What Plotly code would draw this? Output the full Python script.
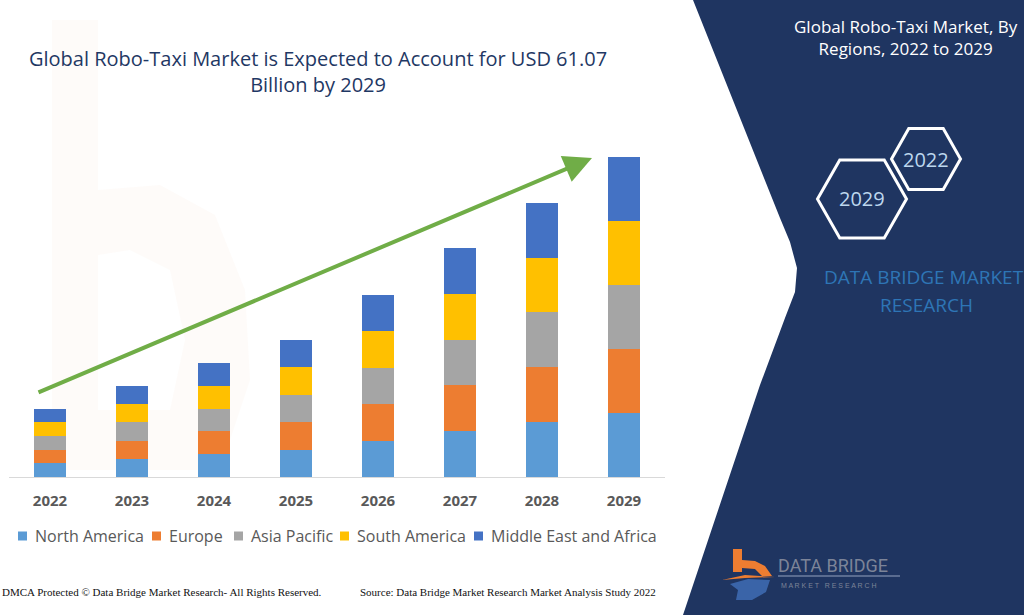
import plotly.graph_objects as go

# ---------------- data ----------------
years = ["2022", "2023", "2024", "2025", "2026", "2027", "2028", "2029"]
north_america = [2.60, 3.47, 4.35, 5.23, 6.95, 8.74, 10.46, 12.21]
europe        = [2.60, 3.47, 4.35, 5.23, 6.95, 8.74, 10.46, 12.22]
asia_pacific  = [2.60, 3.47, 4.35, 5.23, 6.95, 8.74, 10.46, 12.21]
south_america = [2.60, 3.47, 4.35, 5.23, 6.95, 8.74, 10.46, 12.21]
mea           = [2.60, 3.47, 4.35, 5.23, 6.95, 8.74, 10.46, 12.22]
series_names = ["North America", "Europe", "Asia Pacific", "South America", "Middle East and Africa"]
series_colors = ["#5B9BD5", "#ED7D31", "#A5A5A5", "#FFC000", "#4472C4"]

W, H = 1024, 615
NAVY = "#1F3561"


def px(x):
    return x / W


def py(y):
    return 1 - y / H


def path(points, close=True):
    s = "M " + " L ".join(f"{px(x):.5f},{py(y):.5f}" for x, y in points)
    return s + (" Z" if close else "")


fig = go.Figure()
for name, vals, col in zip(series_names,
                           [north_america, europe, asia_pacific, south_america, mea],
                           series_colors):
    fig.add_trace(go.Bar(x=years, y=vals, name=name, marker_color=col,
                         marker_line_width=0, width=0.40, showlegend=False))

shapes = []
# faint orange watermark "b" on the left
shapes.append(dict(type="rect", xref="paper", yref="paper", layer="below",
                   x0=px(52), x1=px(98), y0=py(470), y1=py(20),
                   fillcolor="rgba(237,125,49,0.03)", line_width=0))
shapes.append(dict(type="path", xref="paper", yref="paper", layer="below",
                   path=path([(98, 190), (160, 185), (215, 215), (245, 290), (250, 380),
                              (230, 440), (200, 470), (98, 470), (98, 410), (170, 410),
                              (185, 340), (170, 270), (130, 250), (98, 255)]),
                   fillcolor="rgba(237,125,49,0.03)", line_width=0))

# navy right-hand panel with curved edge
navy_pts = [(693, 0), (1024, 0), (1024, 615), (683, 615), (760, 385), (785, 318),
            (795, 292), (797, 268), (790, 242), (780, 218)]
shapes.append(dict(type="path", xref="paper", yref="paper", layer="below",
                   path=path(navy_pts), fillcolor=NAVY, line_width=0))


def hexagon(cx, cy, hw, hh):
    return [(cx - hw, cy), (cx - hw / 2, cy - hh), (cx + hw / 2, cy - hh),
            (cx + hw, cy), (cx + hw / 2, cy + hh), (cx - hw / 2, cy + hh)]


shapes.append(dict(type="path", xref="paper", yref="paper",
                   path=path(hexagon(926, 159, 34.5, 30.5)),
                   line=dict(color="white", width=3)))
shapes.append(dict(type="path", xref="paper", yref="paper",
                   path=path(hexagon(862, 199, 44.5, 39)),
                   line=dict(color="white", width=3)))

# logo shapes (bottom right)
shapes.append(dict(type="rect", xref="paper", yref="paper",
                   x0=px(733), x1=px(742), y0=py(572), y1=py(549),
                   fillcolor="#ED7D31", line_width=0))
shapes.append(dict(type="path", xref="paper", yref="paper",
                   path=path([(742, 560), (755, 561), (765, 566), (772, 576), (762, 576),
                              (755, 569), (742, 568)]),
                   fillcolor="#ED7D31", line_width=0))
shapes.append(dict(type="path", xref="paper", yref="paper",
                   path=path([(722, 580), (745, 575), (775, 577), (745, 578)]),
                   fillcolor="#ED7D31", line_width=0))
shapes.append(dict(type="path", xref="paper", yref="paper",
                   path=path([(730, 584), (748, 579), (770, 580), (766, 592), (752, 600),
                              (736, 600), (738, 590)]),
                   fillcolor="#3A64A8", line_width=0))
shapes.append(dict(type="line", xref="paper", yref="paper",
                   x0=px(778), x1=px(900), y0=py(576), y1=py(576),
                   line=dict(color="#6F7FA0", width=1.5)))

# legend (built from the series lists)
legend_x = [18, 152, 234, 340, 474]
for lx, name, col in zip(legend_x, series_names, series_colors):
    shapes.append(dict(type="rect", xref="paper", yref="paper",
                       x0=px(lx), x1=px(lx + 9), y0=py(540.5), y1=py(531.5),
                       fillcolor=col, line_width=0))

annotations = []
for lx, name in zip(legend_x, series_names):
    annotations.append(dict(xref="paper", yref="paper", x=px(lx + 15), y=py(536), text=name,
                            showarrow=False, xanchor="left", yanchor="middle",
                            font=dict(family="Open Sans", size=16, color="#595959")))
# main title
annotations.append(dict(xref="paper", yref="paper", x=px(318), y=py(71),
                        text="Global Robo-Taxi Market is Expected to Account for USD 61.07<br>Billion by 2029",
                        showarrow=False, align="center", xanchor="center", yanchor="middle",
                        font=dict(family="Open Sans", size=20, color="#1F3864")))
# right panel title
annotations.append(dict(xref="paper", yref="paper", x=px(906), y=py(38),
                        text="Global Robo-Taxi Market, By<br>Regions, 2022 to 2029",
                        showarrow=False, align="center", xanchor="center", yanchor="middle",
                        font=dict(family="Open Sans", size=17, color="white")))
annotations.append(dict(xref="paper", yref="paper", x=px(926), y=py(159), text="2022",
                        showarrow=False, xanchor="center", yanchor="middle",
                        font=dict(family="Open Sans", size=20, color="#BDD7EE")))
annotations.append(dict(xref="paper", yref="paper", x=px(862), y=py(199), text="2029",
                        showarrow=False, xanchor="center", yanchor="middle",
                        font=dict(family="Open Sans", size=20, color="#BDD7EE")))
annotations.append(dict(xref="paper", yref="paper", x=px(822), y=py(277),
                        text="DATA BRIDGE MARKET", showarrow=False,
                        xanchor="left", yanchor="middle",
                        font=dict(family="Open Sans", size=19, color="#2E75B6")))
annotations.append(dict(xref="paper", yref="paper", x=px(926), y=py(305),
                        text="RESEARCH", showarrow=False,
                        xanchor="center", yanchor="middle",
                        font=dict(family="Open Sans", size=19, color="#2E75B6")))
# logo text
annotations.append(dict(xref="paper", yref="paper", x=px(776), y=py(565), text="DATA BRIDGE",
                        showarrow=False, xanchor="left", yanchor="middle",
                        font=dict(family="Roboto", size=18, color="#7C8498")))
annotations.append(dict(xref="paper", yref="paper", x=px(779), y=py(585),
                        text="M A R K E T   R E S E A R C H", showarrow=False,
                        xanchor="left", yanchor="middle",
                        font=dict(family="Liberation Sans", size=7, color="#7C8498")))
# footer
annotations.append(dict(xref="paper", yref="paper", x=px(0), y=py(592),
                        text="DMCA Protected © Data Bridge Market Research- All Rights Reserved.",
                        showarrow=False, xanchor="left", yanchor="middle",
                        font=dict(family="Liberation Serif", size=11, color="#111111")))
annotations.append(dict(xref="paper", yref="paper", x=px(358), y=py(592),
                        text="Source: Data Bridge Market Research Market Analysis Study 2022",
                        showarrow=False, xanchor="left", yanchor="middle",
                        font=dict(family="Liberation Serif", size=11, color="#111111")))
# green growth arrow
annotations.append(dict(xref="paper", yref="paper", x=px(592), y=py(158), text="",
                        ax=37 - 592, ay=393 - 158, axref="pixel", ayref="pixel",
                        showarrow=True, arrowhead=2, arrowsize=1.4, arrowwidth=4,
                        arrowcolor="#70AD47"))

fig.update_layout(
    width=W, height=H,
    margin=dict(l=0, r=0, t=0, b=0),
    paper_bgcolor="white", plot_bgcolor="rgba(0,0,0,0)",
    barmode="stack",
    showlegend=False,
    xaxis=dict(domain=[px(9), px(665)], range=[-0.5, 7.5], showline=True,
               linecolor="#D9D9D9", linewidth=1, ticks="", showgrid=False,
               tickfont=dict(family="Open Sans", size=15, color="#595959", weight="bold"),
               ticklabelstandoff=10, fixedrange=True),
    yaxis=dict(domain=[py(477), py(110)], range=[0, 70], visible=False, showgrid=False,
               fixedrange=True),
    shapes=shapes,
    annotations=annotations,
)

fig.write_html("out.html")
